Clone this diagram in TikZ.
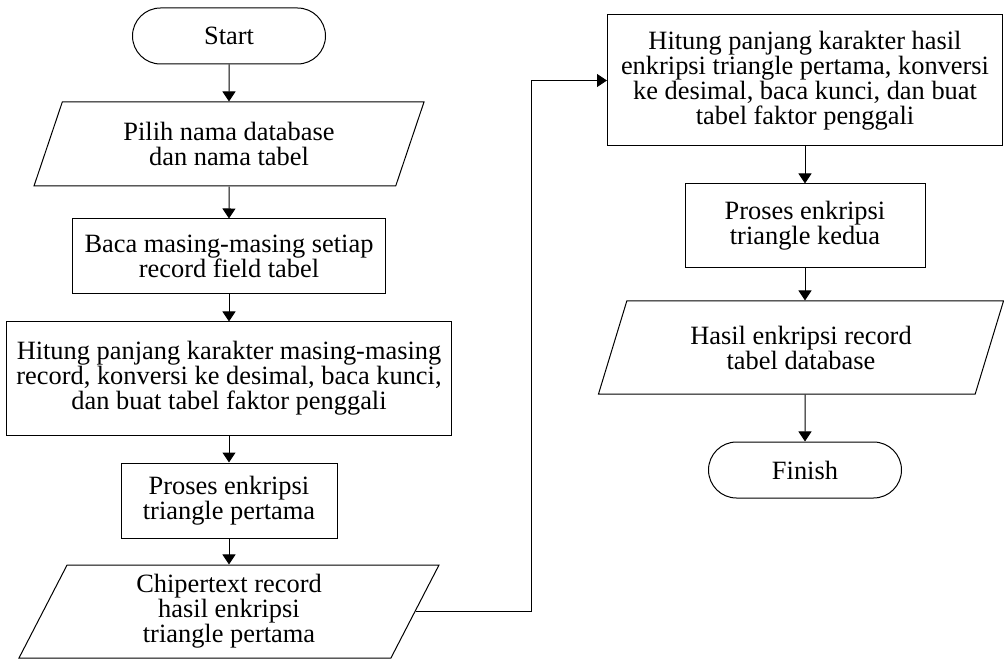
\documentclass[tikz,border=0pt]{standalone}
\usepackage{fontspec}
\setmainfont{Liberation Serif}
\usetikzlibrary{shapes.geometric,shapes.misc,arrows.meta}

\begin{document}
\begin{tikzpicture}[x=1pt,y=-1pt,
        every node/.style={draw, line width=1pt, align=center, inner sep=0pt,
            font=\fontsize{26.4}{25}\selectfont},
        terminal/.style={rounded rectangle, minimum width=193pt, minimum height=56pt},
        process/.style={rectangle},
        io/.style={trapezium, trapezium left angle=57, trapezium right angle=123,
            trapezium stretches body},
        flow/.style={-{Triangle[length=10pt,width=13pt]}, line width=1pt}]
        \useasboundingbox (0,0) rectangle (1004,660);
        % Left column
        \node[terminal] (start) at (229,36) {Start};
        \node[io, minimum width=390pt, minimum height=84pt] (pilih) at (229,144)
            {Pilih nama database\\dan nama tabel};
        \node[process, minimum width=313pt, minimum height=75pt] (baca) at (229,256.5)
            {Baca masing-masing setiap\\record field tabel};
        \node[process, minimum width=445pt, minimum height=113pt] (hitung1) at (229,378.5)
            {Hitung panjang karakter masing-masing\\record, konversi ke desimal, baca kunci,\\dan buat tabel faktor penggali};
        \node[process, minimum width=216pt, minimum height=75pt] (enkripsi1) at (229,500.5)
            {Proses enkripsi\\triangle pertama};
        \node[io, minimum width=420pt, minimum height=93pt] (cipher) at (229,611.5)
            {Chipertext record\\hasil enkripsi\\triangle pertama};
        % Right column
        \node[process, minimum width=395pt, minimum height=131pt] (hitung2) at (805,80.5)
            {Hitung panjang karakter hasil\\enkripsi triangle pertama, konversi\\ke desimal, baca kunci, dan buat\\tabel faktor penggali};
        \node[process, minimum width=240pt, minimum height=84pt] (enkripsi2) at (805,226)
            {Proses enkripsi\\triangle kedua};
        \node[io, minimum width=405pt, minimum height=93pt] (hasil) at (801,347.5)
            {Hasil enkripsi record\\tabel database};
        \node[terminal] (finish) at (805,470) {Finish};
        \coordinate (bend) at (531,0);
        % Flow
        \draw[flow] (start) -- (pilih);
        \draw[flow] (pilih) -- (baca);
        \draw[flow] (baca) -- (hitung1);
        \draw[flow] (hitung1) -- (enkripsi1);
        \draw[flow] (enkripsi1) -- (cipher);
        \draw[flow] (cipher.east) -- (cipher.east -| bend) |- (hitung2.west);
        \draw[flow] (hitung2) -- (enkripsi2);
        \draw[flow] (enkripsi2.south) -- (enkripsi2.south |- hasil.north);
        \draw[flow] (enkripsi2.south |- hasil.south) -- (finish);
    \end{tikzpicture}
\end{document}
